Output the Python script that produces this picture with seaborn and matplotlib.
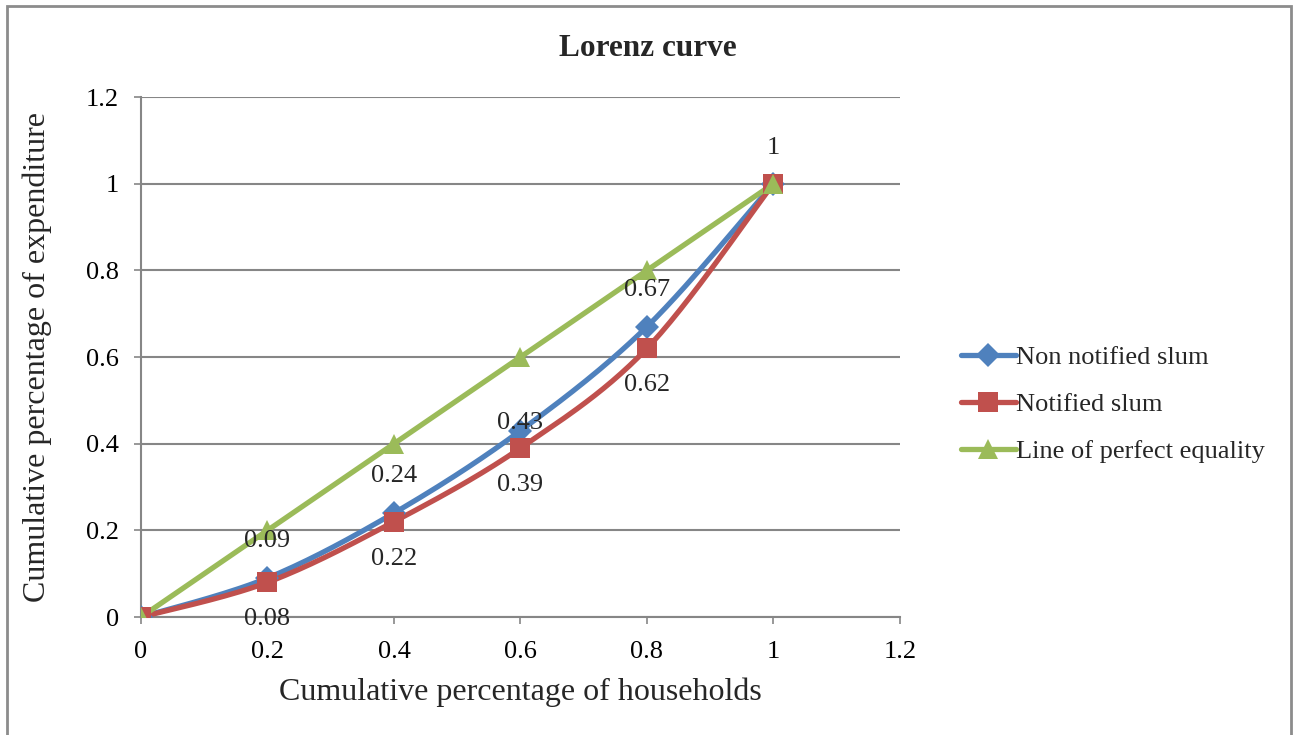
import numpy as np
import pandas as pd
import matplotlib
matplotlib.use("Agg")
import matplotlib.pyplot as plt
from matplotlib.lines import Line2D
from matplotlib.patches import Rectangle
import seaborn as sns

# data
households = [0, 0.2, 0.4, 0.6, 0.8, 1.0]
non_notified = [0, 0.09, 0.24, 0.43, 0.67, 1.0]
notified = [0, 0.08, 0.22, 0.39, 0.62, 1.0]
equality = [0, 0.2, 0.4, 0.6, 0.8, 1.0]
series_names = ["Non notified slum", "Notified slum", "Line of perfect equality"]

COLORS = ["#4F81BD", "#C0504D", "#9BBB59"]
MARKERS = ["D", "s", "^"]
MSIZES = [12, 15, 15]
GRID = "#868686"


def smooth(xs, ys, n=30):
    # Excel-like smoothed line (Catmull-Rom as cubic Bezier)
    p = np.column_stack([xs, ys]).astype(float)
    pts = [p[0]] + list(p) + [p[-1]]
    out = []
    t = np.linspace(0, 1, n)[:, None]
    for i in range(1, len(pts) - 2):
        p0, p1, p2, p3 = pts[i - 1], pts[i], pts[i + 1], pts[i + 2]
        c1 = p1 + (p2 - p0) / 6.0
        c2 = p2 - (p3 - p1) / 6.0
        seg = ((1 - t) ** 3) * p1 + 3 * ((1 - t) ** 2) * t * c1 + 3 * (1 - t) * t ** 2 * c2 + t ** 3 * p2
        out.append(seg if i == 1 else seg[1:])
    out = np.vstack(out)
    return out[:, 0], out[:, 1]


sns.set_theme(style="white")
plt.rcParams["font.family"] = ["Liberation Serif", "DejaVu Serif"]

fig = plt.figure(figsize=(12.96, 7.35), dpi=100)
ax = fig.add_axes([0.1088, 0.1605, 0.5856, 0.7075])

frames = []
for name, ys in zip(series_names, [non_notified, notified, equality]):
    sx, sy = smooth(households, ys)
    frames.append(pd.DataFrame({"x": sx, "y": sy, "series": name}))
curves = pd.concat(frames, ignore_index=True)

for name, color, mk, ms, ys in zip(series_names, COLORS, MARKERS, MSIZES,
                                   [non_notified, notified, equality]):
    sns.lineplot(data=curves[curves["series"] == name], x="x", y="y", sort=False,
                 color=color, lw=3.8, ax=ax, legend=False, zorder=3)
    ax.plot(households, ys, ls="none", marker=mk, ms=ms, color=color,
            markeredgewidth=0, zorder=4)

# data labels (offsets in pixels)
LABEL_FS = 19
for x, v in zip(households[1:5], non_notified[1:5]):
    dy = 8 if v == 0.43 else 37
    ax.annotate(f"{v:g}", (x, v), xytext=(0, dy), textcoords="offset pixels",
                ha="center", va="center", fontsize=LABEL_FS, zorder=5)
for x, v in zip(households[1:5], notified[1:5]):
    ax.annotate(f"{v:g}", (x, v), xytext=(0, -37), textcoords="offset pixels",
                ha="center", va="center", fontsize=LABEL_FS, zorder=5)
ax.annotate("1", (households[-1], non_notified[-1]), xytext=(0, 36),
            textcoords="offset pixels", ha="center", va="center", fontsize=LABEL_FS)

ax.set_xlim(0, 1.2)
ax.set_ylim(0, 1.2)
ax.set_xticks(np.arange(0, 1.21, 0.2))
ax.set_yticks(np.arange(0, 1.21, 0.2))
ax.set_xticklabels(["0", "0.2", "0.4", "0.6", "0.8", "1", "1.2"])
ax.set_yticklabels(["0", "0.2", "0.4", "0.6", "0.8", "1", "1.2"])
ax.yaxis.grid(True, color=GRID, lw=1.5)
ax.set_axisbelow(True)
for s in ["top", "right"]:
    ax.spines[s].set_visible(False)
for s in ["left", "bottom"]:
    ax.spines[s].set_color(GRID)
    ax.spines[s].set_linewidth(1.5)
ax.tick_params(axis="both", direction="out", length=5, width=1.2, color=GRID,
               labelsize=19, labelcolor="black")
ax.tick_params(axis="y", pad=11)
ax.tick_params(axis="x", pad=12)
ax.tick_params(axis="both", which="both", bottom=True, left=True)

ax.set_xlabel("Cumulative percentage of households", fontsize=23, labelpad=11)
ax.set_ylabel("Cumulative percentage of expenditure", fontsize=23, labelpad=24)
fig.text(0.5, 1 - 49 / 735, "Lorenz curve", fontsize=22.5, fontweight="bold",
         ha="center", va="center")

handles = [Line2D([0], [0], color=c, lw=3.8, marker=m, ms=ms, markeredgewidth=0)
           for c, m, ms in zip(COLORS, MARKERS, MSIZES)]
fig.legend(handles, series_names, loc="center left", bbox_to_anchor=(0.731, 0.45),
           frameon=False, fontsize=19, handlelength=2.1, handletextpad=0.0,
           labelspacing=0.9, numpoints=1, borderpad=0)

fig.patches.append(Rectangle((7 / 1296, -0.05), 1284 / 1296, 1.05 - 6 / 735,
                             transform=fig.transFigure, fill=False,
                             edgecolor="#8c8c8c", lw=2))

fig.savefig("out.png", dpi=100)
